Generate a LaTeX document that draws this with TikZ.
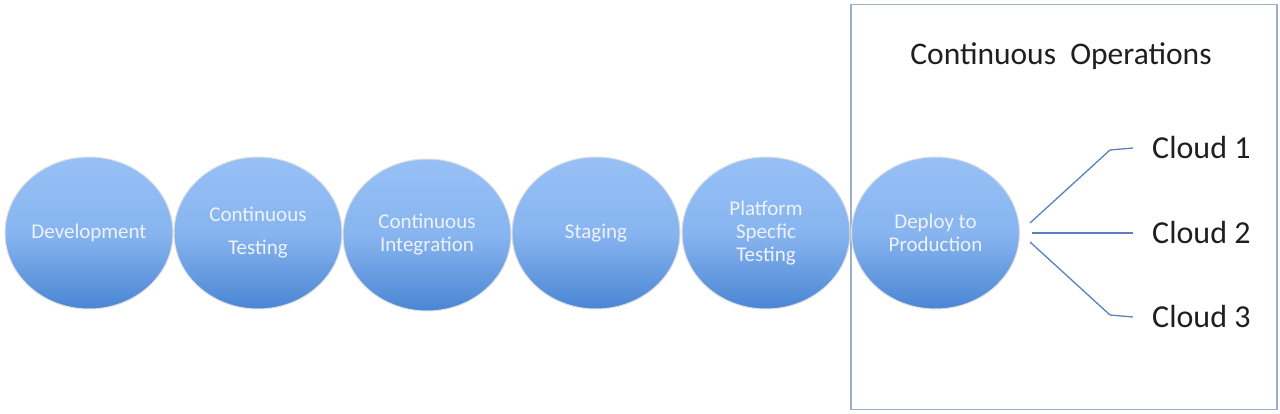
\documentclass[tikz,border=0pt]{standalone}
\usepackage{fontspec}
\setmainfont{Carlito}
\usetikzlibrary{shapes.geometric,calc}
\definecolor{ctop}{HTML}{97C0F6}
\definecolor{cbot}{HTML}{4A86D4}
\definecolor{ctext}{HTML}{EEF3FB}
\definecolor{cline}{HTML}{5A82B8}
\definecolor{cbox}{HTML}{9CB0C8}
\tikzset{
  stage/.style={ellipse, minimum width=168pt, minimum height=152pt, inner sep=0pt,
    top color=ctop, bottom color=cbot, middle color=ctop!80!cbot, draw=gray!25, line width=1pt,
    text=ctext, align=center, font=\fontsize{21}{23}\selectfont},
  cloudlbl/.style={anchor=west, inner sep=2pt, font=\fontsize{32}{36}\selectfont, text=black!88},
  link/.style={draw=cline, line width=1.3pt}
}
\begin{document}
\begin{tikzpicture}[x=1pt,y=-1pt]
\useasboundingbox (0,0) rectangle (1280,414);
\node[draw=cbox, line width=1.2pt, minimum width=426pt, minimum height=405pt, inner sep=0pt] (ops) at (1064,207) {};
\node[font=\fontsize{31.5}{34}\selectfont, text=black!88] (opsl) at (1061,56) {Continuous\ \ Operations};
\node[stage] (dev) at (89,233) {Development};
\node[stage] (ct) at (258,233) {Continuous\\[10pt]Testing};
\node[stage] (ci) at (427,235) {Continuous\\Integration};
\node[stage] (stg) at (596,233) {Staging};
\node[stage] (pst) at (766,233) {Platform\\Specfic\\Testing};
\node[stage] (dep) at (935.5,233) {Deploy to\\Production};
\node[cloudlbl] (c1) at (1150,148) {Cloud 1};
\node[cloudlbl] (c2) at (1150,233) {Cloud 2};
\node[cloudlbl] (c3) at (1150,317) {Cloud 3};
\draw[link] ([shift={(10,-10)}]dep.east) -- ++(80,-73) -- ([xshift=-17]c1.west);
\draw[link] ([xshift=12]dep.east) -- ([xshift=-17]c2.west);
\draw[link] ([shift={(10,9)}]dep.east) -- ++(80,73) -- ([xshift=-17]c3.west);
\end{tikzpicture}
\end{document}
